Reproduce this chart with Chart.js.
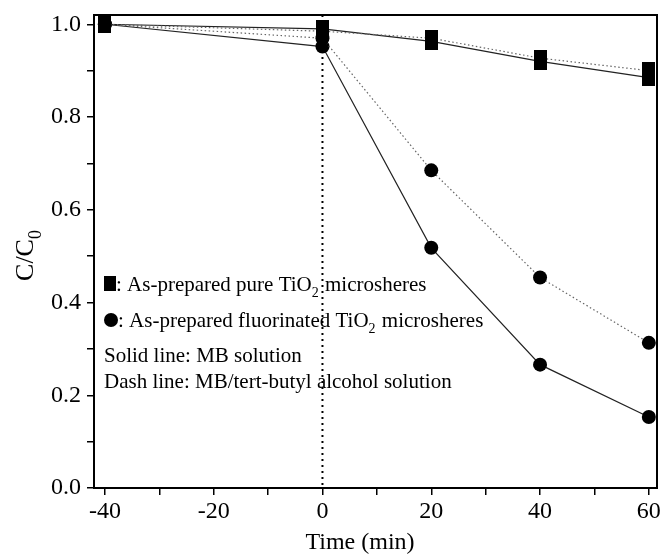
<!DOCTYPE html>
<html>
<head>
<meta charset="utf-8">
<script src="https://cdn.jsdelivr.net/npm/chart.js@4.4.1/dist/chart.umd.min.js"></script>
<style>
  html, body { margin: 0; padding: 0; background: #fff; }
  #wrap { width: 664px; height: 556px; }
</style>
</head>
<body>
<div id="wrap"><canvas id="chart" width="664" height="556"></canvas></div>
<script>
// time points (min)
const times = [-40, 0, 20, 40, 60];

// C/C0 values
const pureMB = [1.0, 0.99, 0.963, 0.92, 0.885];
const pureTBA = [1.0, 0.985, 0.97, 0.927, 0.90];
const fluorMB = [1.0, 0.952, 0.518, 0.266, 0.153];
const fluorTBA = [1.0, 0.97, 0.685, 0.454, 0.313];

const xTicksMajor = [-40, -20, 0, 20, 40, 60];
const yTicksMajor = [0.0, 0.2, 0.4, 0.6, 0.8, 1.0];

const serif = '"Liberation Serif", "Times New Roman", serif';

// tall black square marker, like the figure
function squareMarker() {
  const c = document.createElement('canvas');
  c.width = 13; c.height = 17;
  const g = c.getContext('2d');
  g.fillStyle = '#000';
  g.fillRect(0, 0, 13, 17);
  return c;
}
const sq = squareMarker();

function pts(ys) {
  return times.map((t, i) => ({ x: t, y: ys[i] }));
}

function series(label, ys, marker, dotted) {
  return {
    label: label,
    data: pts(ys),
    showLine: true,
    borderColor: dotted ? '#666' : '#222',
    borderWidth: 1.2,
    borderDash: dotted ? [1.5, 2.5] : [],
    pointStyle: marker === 'sq' ? sq : 'circle',
    pointRadius: 7,
    pointBackgroundColor: '#000',
    pointBorderColor: '#000',
    pointBorderWidth: 0,
    tension: 0,
    fill: false
  };
}

// draw a run of text pieces, with subscripts
function textRun(ctx, parts, x, y, size) {
  parts.forEach(p => {
    ctx.font = (p.sub ? Math.round(size * 0.68) : size) + 'px ' + serif;
    ctx.fillText(p.t, x, y + (p.sub ? size * 0.3 : 0));
    x += ctx.measureText(p.t).width + (p.sub ? 1 : 0);
  });
  return x;
}

function runWidth(ctx, parts, size) {
  let w = 0;
  parts.forEach(p => {
    ctx.font = (p.sub ? Math.round(size * 0.68) : size) + 'px ' + serif;
    w += ctx.measureText(p.t).width + (p.sub ? 1 : 0);
  });
  return w;
}

// frame, dotted zero line, axis titles and in-plot notes
const extras = {
  id: 'extras',
  beforeDatasetsDraw(chart) {
    const { ctx, chartArea: a, scales } = chart;
    const x0 = scales.x.getPixelForValue(0);
    ctx.save();
    ctx.strokeStyle = '#000';
    ctx.lineWidth = 2;
    ctx.setLineDash([2, 4]);
    ctx.beginPath();
    ctx.moveTo(x0, a.top);
    ctx.lineTo(x0, a.bottom);
    ctx.stroke();
    ctx.restore();
  },
  afterDraw(chart) {
    const { ctx, chartArea: a } = chart;
    ctx.save();
    ctx.strokeStyle = '#000';
    ctx.lineWidth = 2;
    ctx.strokeRect(a.left, a.top, a.right - a.left, a.bottom - a.top);
    ctx.fillStyle = '#000';
    ctx.textBaseline = 'alphabetic';

    // x title
    const xt = [{ t: 'Time (min)' }];
    textRun(ctx, xt, 360 - runWidth(ctx, xt, 24) / 2, 549, 24);

    // y title C/C0
    ctx.save();
    ctx.translate(33, 255);
    ctx.rotate(-Math.PI / 2);
    const yt = [{ t: 'C/C' }, { t: '0', sub: true }];
    textRun(ctx, yt, -runWidth(ctx, yt, 26) / 2, 0, 26);
    ctx.restore();

    // notes inside the plot
    const left = a.left + 10;
    const fs = 21;
    ctx.fillRect(left, 276, 12, 15);
    textRun(ctx, [{ t: ': As-prepared pure TiO' }, { t: '2', sub: true }, { t: ' microsheres' }], left + 12, 291, fs);
    ctx.beginPath();
    ctx.arc(left + 7, 320, 7, 0, Math.PI * 2);
    ctx.fill();
    textRun(ctx, [{ t: ': As-prepared fluorinated TiO' }, { t: '2', sub: true }, { t: ' microsheres' }], left + 14, 327, fs);
    textRun(ctx, [{ t: 'Solid line: MB solution' }], left, 362, fs);
    textRun(ctx, [{ t: 'Dash line: MB/tert-butyl alcohol solution' }], left, 388, fs);
    ctx.restore();
  }
};

new Chart(document.getElementById('chart'), {
  type: 'scatter',
  data: {
    datasets: [
      series('pure TiO2, MB/TBA', pureTBA, 'sq', true),
      series('pure TiO2, MB', pureMB, 'sq', false),
      series('fluorinated TiO2, MB/TBA', fluorTBA, 'ci', true),
      series('fluorinated TiO2, MB', fluorMB, 'ci', false)
    ]
  },
  options: {
    responsive: false,
    animation: false,
    layout: { padding: { left: 0, right: 5, top: 15, bottom: 0 } },
    plugins: { legend: { display: false }, tooltip: { enabled: false } },
    scales: {
      x: {
        type: 'linear',
        min: -42,
        max: 61.5,
        afterFit(s) { s.height = 68; s.paddingLeft = 0; s.paddingRight = 0; },
        border: { display: false },
        grid: { drawOnChartArea: false, color: '#000', lineWidth: 1.5, tickLength: 7 },
        ticks: {
          stepSize: 10,
          includeBounds: false,
          color: '#000',
          font: { family: serif, size: 24 },
          padding: 2,
          maxRotation: 0,
          autoSkip: false,
          callback: v => xTicksMajor.includes(v) ? String(v) : ''
        }
      },
      y: {
        type: 'linear',
        min: 0,
        max: 1.02,
        afterFit(s) { s.width = 94; s.paddingTop = 0; s.paddingBottom = 0; },
        border: { display: false },
        grid: { drawOnChartArea: false, color: '#000', lineWidth: 1.5, tickLength: 7 },
        ticks: {
          stepSize: 0.1,
          includeBounds: false,
          color: '#000',
          font: { family: serif, size: 24 },
          padding: 6,
          autoSkip: false,
          callback: v => {
            const r = Math.round(v * 10) / 10;
            return yTicksMajor.some(m => Math.abs(m - r) < 1e-6) ? r.toFixed(1) : '';
          }
        }
      }
    }
  },
  plugins: [extras]
});
</script>
</body>
</html>
